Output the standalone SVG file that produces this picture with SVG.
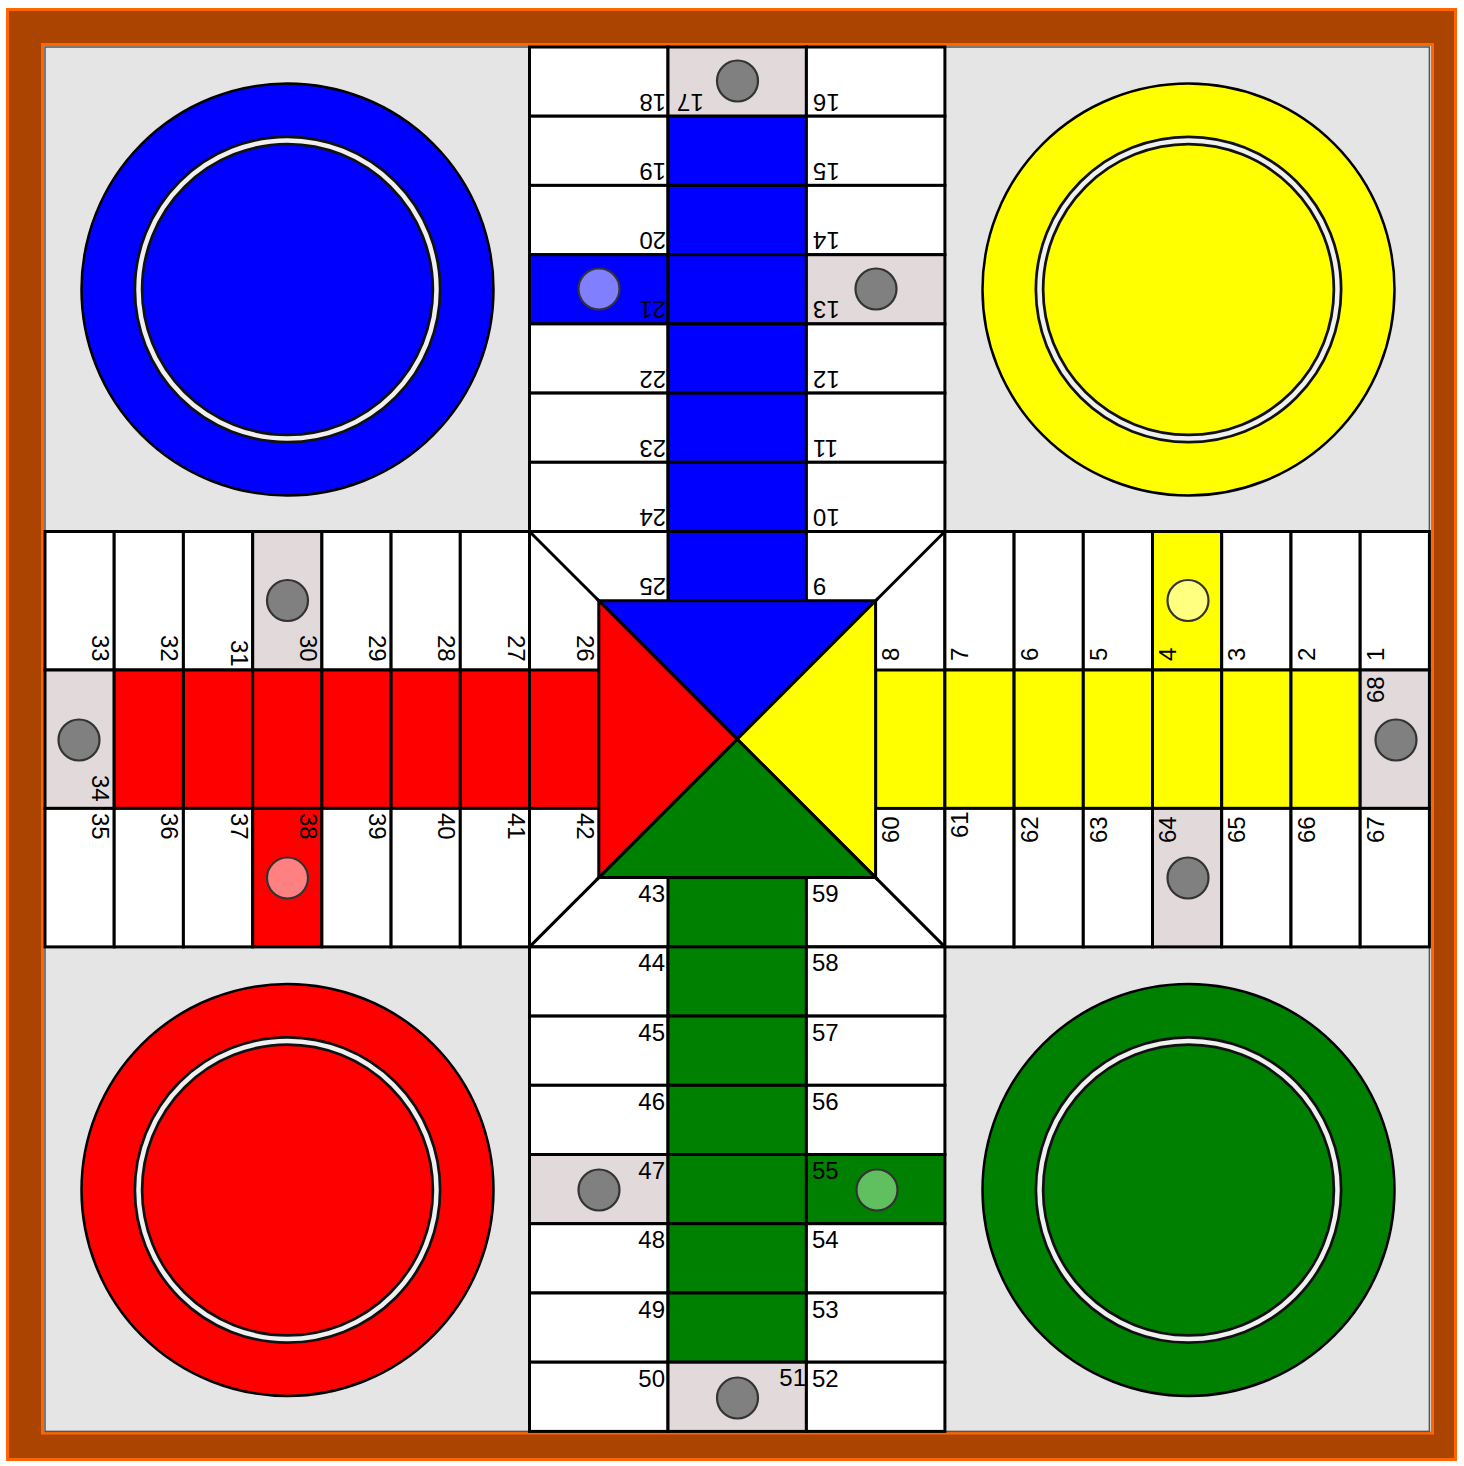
<svg xmlns="http://www.w3.org/2000/svg" width="1464" height="1466" viewBox="0 0 1464 1466">
<style>
.c{stroke:#000;stroke-width:3}
.w{fill:#fff}.s{fill:#e2dada}.bl{fill:#0000ff}.ye{fill:#ffff00}.re{fill:#ff0000}.gr{fill:#008000}
.p{stroke:#333;stroke-width:2.2}
.t{font-family:"Liberation Sans",Arial,sans-serif;font-size:24px;fill:#000}
.e{text-anchor:end}
.ring1{fill:none;stroke:#111;stroke-width:10}
.ring2{fill:none;stroke:#f0f0f0;stroke-width:4.5}
.home{stroke:#000;stroke-width:2.5}
</style>
<rect x="7.5" y="9.5" width="1448" height="1450" fill="#aa4400" stroke="#ff6600" stroke-width="3"/>
<rect x="42.5" y="44.5" width="1390" height="1388.5" fill="#e5e5e5" stroke="#ff6600" stroke-width="3"/>
<rect x="45" y="47" width="1384.4" height="1384.4" fill="none" stroke="#555" stroke-width="1.5"/>

<g id="home-blue">
<circle class="home bl" cx="287.5" cy="289.5" r="206"/>
<circle class="ring1" cx="287.5" cy="289.5" r="149"/><circle class="ring2" cx="287.5" cy="289.5" r="149"/>
</g>
<g id="home-yellow">
<circle class="home ye" cx="1188.5" cy="289.5" r="206"/>
<circle class="ring1" cx="1188.5" cy="289.5" r="149"/><circle class="ring2" cx="1188.5" cy="289.5" r="149"/>
</g>
<g id="home-red">
<circle class="home re" cx="287.5" cy="1190" r="206"/>
<circle class="ring1" cx="287.5" cy="1190" r="149"/><circle class="ring2" cx="287.5" cy="1190" r="149"/>
</g>
<g id="home-green">
<circle class="home gr" cx="1188.5" cy="1190" r="206"/>
<circle class="ring1" cx="1188.5" cy="1190" r="149"/><circle class="ring2" cx="1188.5" cy="1190" r="149"/>
</g>

<g id="center">
<rect class="c w" x="529.5" y="531.5" width="415.4" height="415.4"/>
<line class="c" x1="529.5" y1="531.5" x2="598.8" y2="600.8"/>
<line class="c" x1="944.9" y1="531.5" x2="875.6" y2="600.8"/>
<line class="c" x1="529.5" y1="946.9" x2="598.8" y2="877.6"/>
<line class="c" x1="944.9" y1="946.9" x2="875.6" y2="877.6"/>
<rect class="c bl" x="668" y="531.5" width="138.4" height="69.3"/>
<rect class="c gr" x="668" y="877.6" width="138.4" height="69.3"/>
<rect class="c re" x="529.5" y="670" width="69.3" height="138.4"/>
<rect class="c ye" x="875.6" y="670" width="69.3" height="138.4"/>
<polygon class="c bl" points="598.8,600.8 875.6,600.8 737.2,739.2"/>
<polygon class="c ye" points="875.6,600.8 875.6,877.6 737.2,739.2"/>
<polygon class="c gr" points="875.6,877.6 598.8,877.6 737.2,739.2"/>
<polygon class="c re" points="598.8,877.6 598.8,600.8 737.2,739.2"/>
</g>

<g id="arm-top">
<rect class="c w" x="529.5" y="47" width="138.5" height="69.2"/>
<rect class="c w" x="529.5" y="116.2" width="138.5" height="69.2"/>
<rect class="c w" x="529.5" y="185.4" width="138.5" height="69.3"/>
<rect class="c bl" x="529.5" y="254.7" width="138.5" height="69.2"/>
<rect class="c w" x="529.5" y="323.9" width="138.5" height="69.2"/>
<rect class="c w" x="529.5" y="393.1" width="138.5" height="69.2"/>
<rect class="c w" x="529.5" y="462.3" width="138.5" height="69.2"/>
<rect class="c s" x="668" y="47" width="138.4" height="69.2"/>
<rect class="c bl" x="668" y="116.2" width="138.4" height="69.2"/>
<rect class="c bl" x="668" y="185.4" width="138.4" height="69.3"/>
<rect class="c bl" x="668" y="254.7" width="138.4" height="69.2"/>
<rect class="c bl" x="668" y="323.9" width="138.4" height="69.2"/>
<rect class="c bl" x="668" y="393.1" width="138.4" height="69.2"/>
<rect class="c bl" x="668" y="462.3" width="138.4" height="69.2"/>
<rect class="c w" x="806.4" y="47" width="138.5" height="69.2"/>
<rect class="c w" x="806.4" y="116.2" width="138.5" height="69.2"/>
<rect class="c w" x="806.4" y="185.4" width="138.5" height="69.3"/>
<rect class="c s" x="806.4" y="254.7" width="138.5" height="69.2"/>
<rect class="c w" x="806.4" y="323.9" width="138.5" height="69.2"/>
<rect class="c w" x="806.4" y="393.1" width="138.5" height="69.2"/>
<rect class="c w" x="806.4" y="462.3" width="138.5" height="69.2"/>
</g>

<g id="arm-bottom">
<rect class="c w" x="529.5" y="946.9" width="138.5" height="69.2"/>
<rect class="c w" x="529.5" y="1016.1" width="138.5" height="69.2"/>
<rect class="c w" x="529.5" y="1085.3" width="138.5" height="69.2"/>
<rect class="c s" x="529.5" y="1154.5" width="138.5" height="69.2"/>
<rect class="c w" x="529.5" y="1223.7" width="138.5" height="69.3"/>
<rect class="c w" x="529.5" y="1293" width="138.5" height="69.2"/>
<rect class="c w" x="529.5" y="1362.2" width="138.5" height="69.2"/>
<rect class="c gr" x="668" y="946.9" width="138.4" height="69.2"/>
<rect class="c gr" x="668" y="1016.1" width="138.4" height="69.2"/>
<rect class="c gr" x="668" y="1085.3" width="138.4" height="69.2"/>
<rect class="c gr" x="668" y="1154.5" width="138.4" height="69.2"/>
<rect class="c gr" x="668" y="1223.7" width="138.4" height="69.3"/>
<rect class="c gr" x="668" y="1293" width="138.4" height="69.2"/>
<rect class="c s" x="668" y="1362.2" width="138.4" height="69.2"/>
<rect class="c w" x="806.4" y="946.9" width="138.5" height="69.2"/>
<rect class="c w" x="806.4" y="1016.1" width="138.5" height="69.2"/>
<rect class="c w" x="806.4" y="1085.3" width="138.5" height="69.2"/>
<rect class="c gr" x="806.4" y="1154.5" width="138.5" height="69.2"/>
<rect class="c w" x="806.4" y="1223.7" width="138.5" height="69.3"/>
<rect class="c w" x="806.4" y="1293" width="138.5" height="69.2"/>
<rect class="c w" x="806.4" y="1362.2" width="138.5" height="69.2"/>
</g>

<g id="arm-left">
<rect class="c w" x="45" y="531.5" width="69.2" height="138.5"/>
<rect class="c w" x="114.2" y="531.5" width="69.2" height="138.5"/>
<rect class="c w" x="183.4" y="531.5" width="69.3" height="138.5"/>
<rect class="c s" x="252.7" y="531.5" width="69.2" height="138.5"/>
<rect class="c w" x="321.9" y="531.5" width="69.2" height="138.5"/>
<rect class="c w" x="391.1" y="531.5" width="69.2" height="138.5"/>
<rect class="c w" x="460.3" y="531.5" width="69.2" height="138.5"/>
<rect class="c s" x="45" y="670" width="69.2" height="138.4"/>
<rect class="c re" x="114.2" y="670" width="69.2" height="138.4"/>
<rect class="c re" x="183.4" y="670" width="69.3" height="138.4"/>
<rect class="c re" x="252.7" y="670" width="69.2" height="138.4"/>
<rect class="c re" x="321.9" y="670" width="69.2" height="138.4"/>
<rect class="c re" x="391.1" y="670" width="69.2" height="138.4"/>
<rect class="c re" x="460.3" y="670" width="69.2" height="138.4"/>
<rect class="c w" x="45" y="808.4" width="69.2" height="138.5"/>
<rect class="c w" x="114.2" y="808.4" width="69.2" height="138.5"/>
<rect class="c w" x="183.4" y="808.4" width="69.3" height="138.5"/>
<rect class="c re" x="252.7" y="808.4" width="69.2" height="138.5"/>
<rect class="c w" x="321.9" y="808.4" width="69.2" height="138.5"/>
<rect class="c w" x="391.1" y="808.4" width="69.2" height="138.5"/>
<rect class="c w" x="460.3" y="808.4" width="69.2" height="138.5"/>
</g>

<g id="arm-right">
<rect class="c w" x="944.9" y="531.5" width="69.2" height="138.5"/>
<rect class="c w" x="1014.1" y="531.5" width="69.2" height="138.5"/>
<rect class="c w" x="1083.3" y="531.5" width="69.2" height="138.5"/>
<rect class="c ye" x="1152.5" y="531.5" width="69.2" height="138.5"/>
<rect class="c w" x="1221.7" y="531.5" width="69.3" height="138.5"/>
<rect class="c w" x="1291" y="531.5" width="69.2" height="138.5"/>
<rect class="c w" x="1360.2" y="531.5" width="69.2" height="138.5"/>
<rect class="c ye" x="944.9" y="670" width="69.2" height="138.4"/>
<rect class="c ye" x="1014.1" y="670" width="69.2" height="138.4"/>
<rect class="c ye" x="1083.3" y="670" width="69.2" height="138.4"/>
<rect class="c ye" x="1152.5" y="670" width="69.2" height="138.4"/>
<rect class="c ye" x="1221.7" y="670" width="69.3" height="138.4"/>
<rect class="c ye" x="1291" y="670" width="69.2" height="138.4"/>
<rect class="c s" x="1360.2" y="670" width="69.2" height="138.4"/>
<rect class="c w" x="944.9" y="808.4" width="69.2" height="138.5"/>
<rect class="c w" x="1014.1" y="808.4" width="69.2" height="138.5"/>
<rect class="c w" x="1083.3" y="808.4" width="69.2" height="138.5"/>
<rect class="c s" x="1152.5" y="808.4" width="69.2" height="138.5"/>
<rect class="c w" x="1221.7" y="808.4" width="69.3" height="138.5"/>
<rect class="c w" x="1291" y="808.4" width="69.2" height="138.5"/>
<rect class="c w" x="1360.2" y="808.4" width="69.2" height="138.5"/>
</g>

<g id="labels-top">
<text class="t" transform="translate(666 93.7) rotate(180)">18</text>
<text class="t" transform="translate(666 162.9) rotate(180)">19</text>
<text class="t" transform="translate(666 232.2) rotate(180)">20</text>
<text class="t" transform="translate(666 301.4) rotate(180)">21</text>
<text class="t" transform="translate(666 370.6) rotate(180)">22</text>
<text class="t" transform="translate(666 439.8) rotate(180)">23</text>
<text class="t" transform="translate(666 509) rotate(180)">24</text>
<text class="t" transform="translate(666 578.3) rotate(180)">25</text>
<text class="t e" transform="translate(677 93.7) rotate(180)">17</text>
<text class="t e" transform="translate(813 93.7) rotate(180)">16</text>
<text class="t e" transform="translate(813 162.9) rotate(180)">15</text>
<text class="t e" transform="translate(813 232.2) rotate(180)">14</text>
<text class="t e" transform="translate(813 301.4) rotate(180)">13</text>
<text class="t e" transform="translate(813 370.6) rotate(180)">12</text>
<text class="t e" transform="translate(813 439.8) rotate(180)">11</text>
<text class="t e" transform="translate(813 509) rotate(180)">10</text>
<text class="t e" transform="translate(813 578.3) rotate(180)">9</text>
</g>

<g id="labels-left">
<text class="t" transform="translate(92.2 635) rotate(90)">33</text>
<text class="t" transform="translate(161.4 635) rotate(90)">32</text>
<text class="t" transform="translate(230.7 640) rotate(90)">31</text>
<text class="t" transform="translate(299.9 635) rotate(90)">30</text>
<text class="t" transform="translate(369.1 635) rotate(90)">29</text>
<text class="t" transform="translate(438.3 635) rotate(90)">28</text>
<text class="t" transform="translate(507.5 635) rotate(90)">27</text>
<text class="t" transform="translate(576.8 635) rotate(90)">26</text>
<text class="t" transform="translate(92.2 775) rotate(90)">34</text>
<text class="t" transform="translate(92.2 813) rotate(90)">35</text>
<text class="t" transform="translate(161.4 813) rotate(90)">36</text>
<text class="t" transform="translate(230.7 813) rotate(90)">37</text>
<text class="t" transform="translate(299.9 813) rotate(90)">38</text>
<text class="t" transform="translate(369.1 813) rotate(90)">39</text>
<text class="t" transform="translate(438.3 813) rotate(90)">40</text>
<text class="t" transform="translate(507.5 813) rotate(90)">41</text>
<text class="t" transform="translate(576.8 813) rotate(90)">42</text>
</g>

<g id="labels-right">
<text class="t" transform="translate(899.1 661) rotate(-90)">8</text>
<text class="t" transform="translate(968.4 661) rotate(-90)">7</text>
<text class="t" transform="translate(1037.6 661) rotate(-90)">6</text>
<text class="t" transform="translate(1106.8 661) rotate(-90)">5</text>
<text class="t" transform="translate(1176 661) rotate(-90)">4</text>
<text class="t" transform="translate(1245.2 661) rotate(-90)">3</text>
<text class="t" transform="translate(1314.5 661) rotate(-90)">2</text>
<text class="t" transform="translate(1383.7 661) rotate(-90)">1</text>
<text class="t" transform="translate(1383.7 703) rotate(-90)">68</text>
<text class="t" transform="translate(899.1 843) rotate(-90)">60</text>
<text class="t" transform="translate(968.4 838) rotate(-90)">61</text>
<text class="t" transform="translate(1037.6 843) rotate(-90)">62</text>
<text class="t" transform="translate(1106.8 843) rotate(-90)">63</text>
<text class="t" transform="translate(1176 843) rotate(-90)">64</text>
<text class="t" transform="translate(1245.2 843) rotate(-90)">65</text>
<text class="t" transform="translate(1314.5 843) rotate(-90)">66</text>
<text class="t" transform="translate(1383.7 843) rotate(-90)">67</text>
</g>

<g id="labels-bottom">
<text class="t e" x="665" y="902">43</text>
<text class="t e" x="665" y="971.4">44</text>
<text class="t e" x="665" y="1040.6">45</text>
<text class="t e" x="665" y="1109.8">46</text>
<text class="t e" x="665" y="1179">47</text>
<text class="t e" x="665" y="1248.2">48</text>
<text class="t e" x="665" y="1317.5">49</text>
<text class="t e" x="665" y="1386.7">50</text>
<text class="t e" x="806" y="1386">51</text>
<text class="t" x="812" y="902">59</text>
<text class="t" x="812" y="971.4">58</text>
<text class="t" x="812" y="1040.6">57</text>
<text class="t" x="812" y="1109.8">56</text>
<text class="t" x="812" y="1179">55</text>
<text class="t" x="812" y="1248.2">54</text>
<text class="t" x="812" y="1317.5">53</text>
<text class="t" x="812" y="1386.7">52</text>
</g>

<g id="pieces">
<circle class="p" cx="737.5" cy="81" r="20.5" fill="#808080"/>
<circle class="p" cx="599" cy="289" r="20.5" fill="#8080ff"/>
<circle class="p" cx="876" cy="289" r="20.5" fill="#808080"/>
<circle class="p" cx="287.5" cy="600.5" r="20.5" fill="#808080"/>
<circle class="p" cx="79" cy="740" r="20.5" fill="#808080"/>
<circle class="p" cx="287.5" cy="878" r="20.5" fill="#ff8080"/>
<circle class="p" cx="1188" cy="600.5" r="20.5" fill="#ffff80"/>
<circle class="p" cx="1396" cy="740" r="20.5" fill="#808080"/>
<circle class="p" cx="1188" cy="878" r="20.5" fill="#808080"/>
<circle class="p" cx="599" cy="1190" r="20.5" fill="#808080"/>
<circle class="p" cx="877" cy="1190" r="20.5" fill="#60c060"/>
<circle class="p" cx="737.5" cy="1398" r="20.5" fill="#808080"/>
</g>
</svg>
